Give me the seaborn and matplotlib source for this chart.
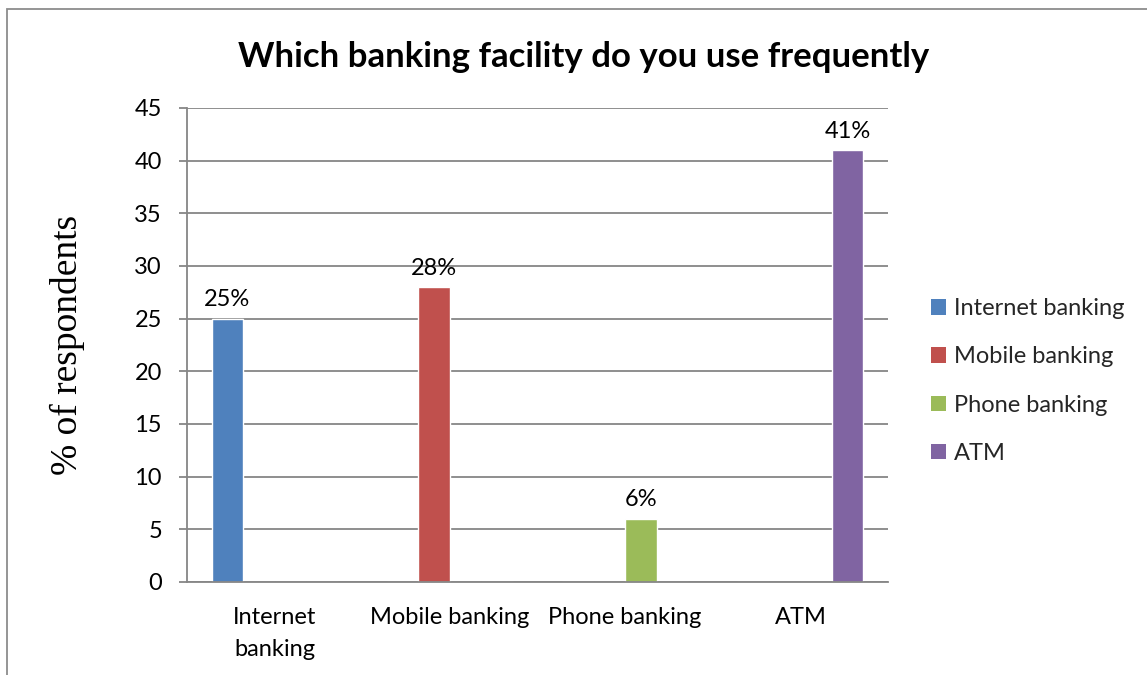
import matplotlib
matplotlib.use("Agg")
import matplotlib.pyplot as plt
from matplotlib.patches import Rectangle, Patch
import seaborn as sns
import pandas as pd

# Survey results
categories = ["Internet banking", "Mobile banking", "Phone banking", "ATM"]
tick_labels = ["Internet\nbanking", "Mobile banking", "Phone banking", "ATM"]
series = ["Internet banking", "Mobile banking", "Phone banking", "ATM"]
percent = [25, 28, 6, 41]
value_labels = ["25%", "28%", "6%", "41%"]
colors = ["#4F81BD", "#C0504D", "#9BBB59", "#8064A2"]

sns.set_theme(style="white")
plt.rcParams["font.family"] = ["Lato", "DejaVu Sans"]

# Each series only has a value in its own category
rows = []
for ci, cat in enumerate(categories):
    for si, s in enumerate(series):
        rows.append({"category": cat, "series": s,
                     "value": percent[ci] if ci == si else 0})
df = pd.DataFrame(rows)

fig = plt.figure(figsize=(11.47, 6.75), dpi=100)
ax = fig.add_axes([187 / 1147, 1 - 582 / 675, (888 - 187) / 1147, (582 - 108) / 675])

sns.barplot(data=df, x="category", y="value", hue="series", order=categories,
            hue_order=series, palette=colors, width=0.72, saturation=1,
            legend=False, ax=ax, errorbar=None)

fs = 17
for ci, container in enumerate(ax.containers):
    labels = [value_labels[i] if i == ci else "" for i in range(len(categories))]
    ax.bar_label(container, labels=labels, padding=6, fontsize=fs, color="#000000")

grid_c = "#868686"
ax.set_ylim(0, 45)
ax.set_xlim(-0.5, len(categories) - 0.5)
ax.set_yticks(range(0, 50, 5))
ax.yaxis.grid(True, color=grid_c, linewidth=1.3)
ax.set_axisbelow(True)
for side in ["top", "right"]:
    ax.spines[side].set_visible(False)
for side in ["left", "bottom"]:
    ax.spines[side].set_color(grid_c)
    ax.spines[side].set_linewidth(1.3)
ax.tick_params(axis="y", which="major", direction="out", length=6, width=1.3,
               color=grid_c, left=True, pad=12, labelsize=fs, labelcolor="#000000")
ax.tick_params(axis="x", length=0, pad=18, labelsize=fs, labelcolor="#000000")
ax.set_xticks(range(len(categories)))
ax.set_xticklabels(tick_labels, linespacing=1.65)
ax.set_xlabel("")
ax.set_ylabel("")

fig.text(67 / 1147, 0.489, "% of respondents", rotation=90, ha="center", va="center",
         fontsize=27, family=["Liberation Serif", "DejaVu Serif"], color="#000000")
fig.text(584 / 1147, 1 - 57 / 675, "Which banking facility do you use frequently",
         ha="center", va="center", fontsize=25, fontweight="bold", color="#000000")

handles = [Patch(facecolor=c, edgecolor="none") for c in colors]
fig.legend(handles, series, loc="center left", bbox_to_anchor=(931 / 1147, 1 - 381 / 675),
           frameon=False, fontsize=fs, handlelength=0.62, handleheight=0.62,
           handletextpad=0.35, labelspacing=1.15, borderaxespad=0, borderpad=0)

# Chart-area frame
fig.patches.append(Rectangle((7 / 1147, -0.1), 1.2, 1.1 - 9 / 675, transform=fig.transFigure,
                             fill=False, edgecolor="#8c8c8c", linewidth=1.3))

fig.savefig("out.png", dpi=100)
